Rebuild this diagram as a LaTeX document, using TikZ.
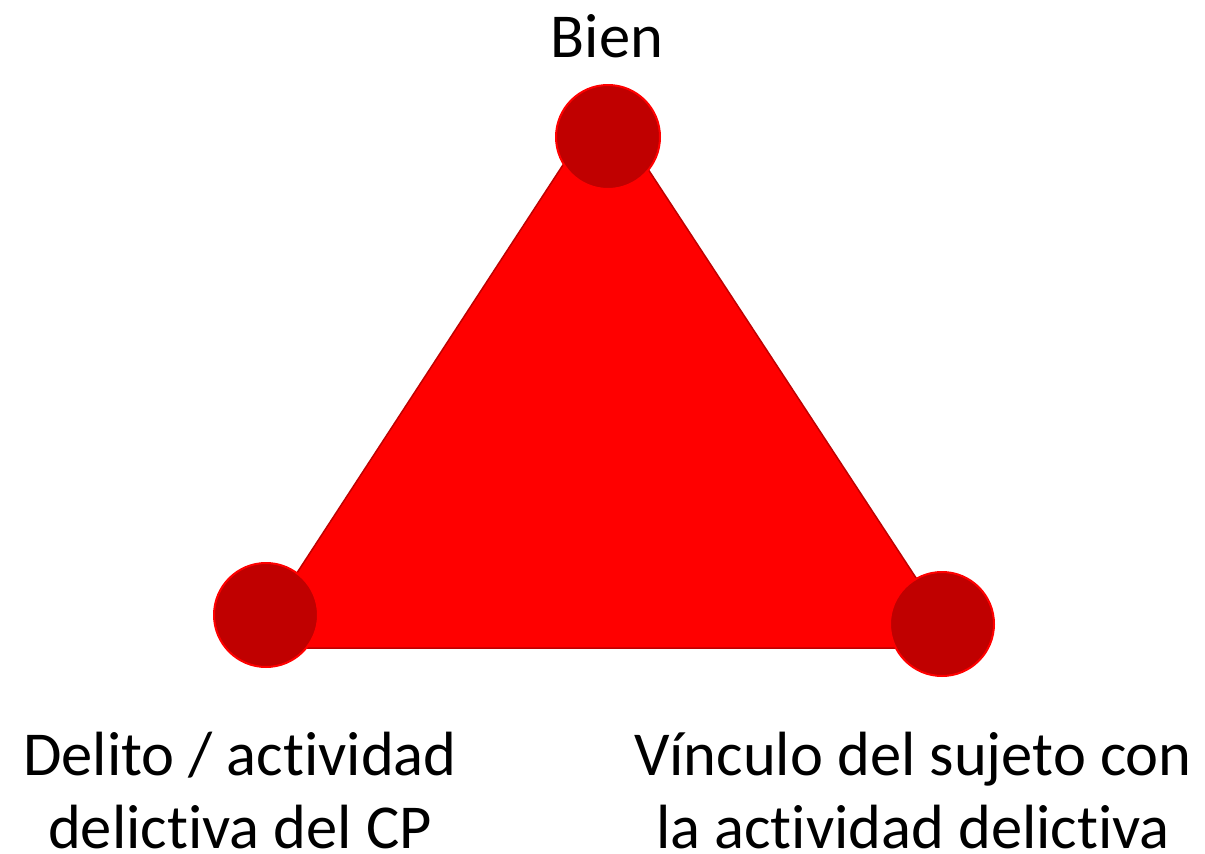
\documentclass[tikz,border=0pt]{standalone}
\usepackage{fontspec}
\setmainfont{Carlito}[Ligatures={NoCommon}]
\definecolor{tri}{HTML}{FF0000}
\definecolor{dark}{HTML}{C00000}
\begin{document}
\begin{tikzpicture}[x=1pt,y=-1pt,
  dot/.style={circle,fill=dark,draw=tri,line width=2pt,minimum size=104pt,inner sep=0pt},
  lbl/.style={font=\fontsize{62.5}{73}\selectfont,align=center,anchor=base,inner sep=0pt}]
\useasboundingbox (0,0) rectangle (1205,854);
\coordinate (A) at (604,102);
\coordinate (B) at (248,648);
\coordinate (C) at (962,648);
\filldraw[fill=tri,draw=dark,line width=1.5pt,line join=round] (A) -- (B) -- (C) -- cycle;
\node[dot] (top) at (608,137) {};
\node[dot] (left) at (266,615) {};
\node[dot] (right) at (942,624) {};
\node[lbl] (tbien) at (607,57) {Bien};
\node[lbl] (tleft) at (240,848) {Delito / actividad\\delictiva del CP};
\node[lbl] (tright) at (913,848) {Vínculo del sujeto con\\la actividad delictiva};
\end{tikzpicture}
\end{document}
